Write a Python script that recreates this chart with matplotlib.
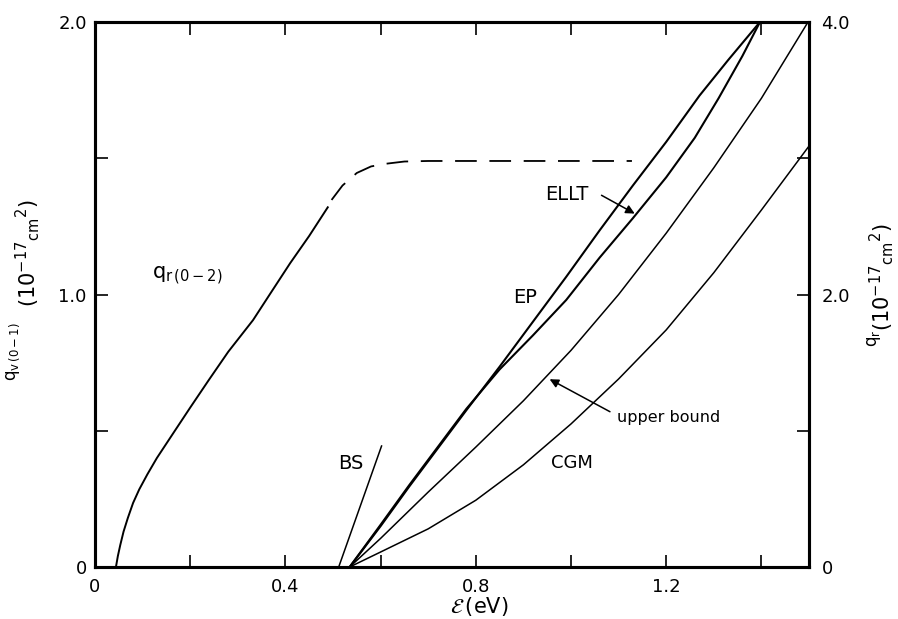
import numpy as np
import matplotlib.pyplot as plt

plt.rcParams['font.family'] = 'DejaVu Sans'
plt.rcParams['mathtext.fontset'] = 'dejavusans'

# q_r(0-2) curve: solid part, then the dashed extrapolation
qr_x = [0.044, 0.048, 0.053, 0.060, 0.069, 0.080, 0.093, 0.11, 0.13, 0.164, 0.20, 0.239, 0.28,
        0.332, 0.367, 0.41, 0.45, 0.489]
qr_y = [0.0, 0.04, 0.08, 0.13, 0.18, 0.235, 0.285, 0.34, 0.40, 0.49, 0.585, 0.686, 0.79,
        0.906, 1.0, 1.115, 1.215, 1.32]
qr_dash_x = [0.497, 0.52, 0.55, 0.58, 0.612, 0.65, 0.70, 1.128]
qr_dash_y = [1.347, 1.40, 1.446, 1.47, 1.48, 1.488, 1.49, 1.49]

# q_v(0-1) curves
ep_x = [0.535, 0.60, 0.66, 0.72, 0.78, 0.85, 0.92, 0.99, 1.06, 1.13, 1.20, 1.27, 1.33, 1.397]
ep_y = [0.0, 0.15, 0.295, 0.435, 0.575, 0.735, 0.90, 1.065, 1.235, 1.40, 1.56, 1.73, 1.86, 2.0]

ellt_x = [0.535, 0.60, 0.66, 0.72, 0.78, 0.85, 0.92, 0.99, 1.06, 1.13, 1.20, 1.26, 1.31, 1.36, 1.397]
ellt_y = [0.0, 0.155, 0.30, 0.44, 0.58, 0.725, 0.85, 0.98, 1.135, 1.28, 1.43, 1.575, 1.72, 1.875, 2.0]

ub_x = [0.535, 0.60, 0.70, 0.80, 0.90, 1.00, 1.10, 1.20, 1.30, 1.40, 1.498]
ub_y = [0.0, 0.105, 0.275, 0.44, 0.61, 0.795, 1.0, 1.225, 1.465, 1.72, 2.0]

cgm_x = [0.535, 0.60, 0.70, 0.80, 0.90, 1.00, 1.10, 1.20, 1.30, 1.40, 1.498]
cgm_y = [0.0, 0.055, 0.14, 0.245, 0.375, 0.525, 0.69, 0.87, 1.08, 1.31, 1.54]

bs_x = [0.512, 0.602]
bs_y = [0.0, 0.444]

xticks = [0, 0.2, 0.4, 0.6, 0.8, 1.0, 1.2, 1.4]
xticklabels = ['0', '', '0.4', '', '0.8', '', '1.2', '']
yticks = [0, 0.5, 1.0, 1.5, 2.0]
yticklabels = ['0', '', '1.0', '', '2.0']
y2ticks = [0, 1, 2, 3, 4]
y2ticklabels = ['0', '', '2.0', '', '4.0']

fig = plt.figure(figsize=(8.98, 6.19), dpi=100)
ax = fig.add_axes([95/898, 1 - 567/619, (809 - 95)/898, (567 - 22)/619])

ax.plot(qr_x, qr_y, color='black', lw=1.4)
ax.plot(qr_dash_x, qr_dash_y, color='black', lw=1.3, linestyle=(0, (12, 7)))
ax.plot(ep_x, ep_y, color='black', lw=1.5)
ax.plot(ellt_x, ellt_y, color='black', lw=1.5)
ax.plot(ub_x, ub_y, color='black', lw=1.1)
ax.plot(cgm_x, cgm_y, color='black', lw=1.1)
ax.plot(bs_x, bs_y, color='black', lw=1.1)

ax.set_xlim(0, 1.5)
ax.set_ylim(0, 2.0)
ax.set_xticks(xticks)
ax.set_xticklabels(xticklabels)
ax.set_yticks(yticks)
ax.set_yticklabels(yticklabels)
ax.tick_params(direction='in', length=9, width=1.2, labelsize=13, top=True)
ax.tick_params(axis='x', pad=8)
ax.tick_params(axis='y', pad=6)

ax2 = ax.twinx()
ax2.set_ylim(0, 4.0)
ax2.set_yticks(y2ticks)
ax2.set_yticklabels(y2ticklabels)
ax2.tick_params(direction='in', length=9, width=1.2, labelsize=13, pad=9)

for a in (ax, ax2):
    for s in a.spines.values():
        s.set_linewidth(2.2)

# curve labels
ax.text(0.12, 1.07, r'$\mathrm{q}_{\mathrm{r}\,(0-2)}$', fontsize=15, va='center', ha='left')
ax.text(0.904, 0.99, 'EP', fontsize=14, ha='center', va='center')
ax.text(0.537, 0.378, 'BS', fontsize=14, ha='center', va='center')
ax.text(1.003, 0.382, 'CGM', fontsize=13, ha='center', va='center')
ax.text(0.992, 1.367, 'ELLT', fontsize=14, ha='center', va='center')
ax.text(1.097, 0.55, 'upper bound', fontsize=11.5, ha='left', va='center')

ax.annotate('', xy=(1.139, 1.292), xytext=(1.059, 1.369),
            arrowprops=dict(arrowstyle='-|>', color='black', lw=1.1, mutation_scale=13))
ax.annotate('', xy=(0.950, 0.694), xytext=(1.087, 0.565),
            arrowprops=dict(arrowstyle='-|>', color='black', lw=1.1, mutation_scale=13))

# axis titles
fig.text(479/898, 1 - 607/619, r'$\mathcal{E}\,$(eV)', fontsize=15, ha='center', va='center')
fig.text(28/898, 1 - 253/619, r'$(10^{-17}{}_{\mathrm{cm}}{}^{2})$', fontsize=15,
         rotation=90, ha='center', va='center')
fig.text(13/898, 1 - 352/619, r'$\mathrm{q}_{\mathrm{v}\,(0-1)}$', fontsize=12, rotation=90,
         ha='center', va='center')
fig.text(882/898, 1 - 277/619, r'$(10^{-17}{}_{\mathrm{cm}}{}^{2})$', fontsize=15,
         rotation=90, ha='center', va='center')
fig.text(874/898, 1 - 338/619, r'$\mathrm{q}_{\mathrm{r}}$', fontsize=12, rotation=90,
         ha='center', va='center')

fig.savefig('out.png', dpi=100)
